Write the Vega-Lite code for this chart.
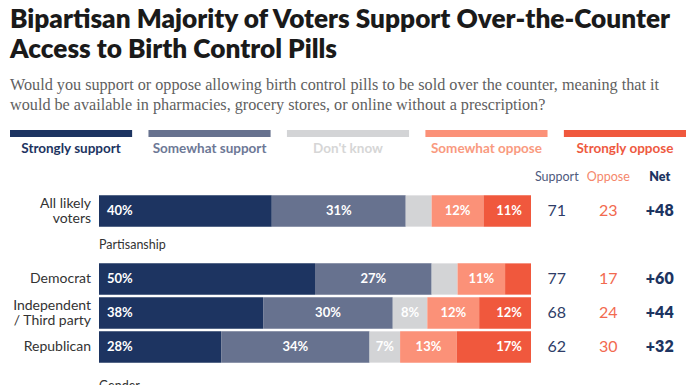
{
  "$schema": "https://vega.github.io/schema/vega-lite/v6.json",
  "background": "white",
  "padding": {"left": 10, "top": 6, "right": 10, "bottom": 0},
  "bounds": "full",
  "title": {
    "text": ["Bipartisan Majority of Voters Support Over-the-Counter", "Access to Birth Control Pills"],
    "subtitle": ["Would you support or oppose allowing birth control pills to be sold over the counter, meaning that it", "would be available in pharmacies, grocery stores, or online without a prescription?"],
    "anchor": "start",
    "font": "Lato",
    "fontSize": 26.2,
    "fontWeight": 800,
    "color": "#1a1a1a",
    "lineHeight": 30,
    "subtitleFont": "Liberation Serif",
    "subtitleFontSize": 16.2,
    "subtitleColor": "#5f5f5f",
    "subtitleLineHeight": 20,
    "subtitlePadding": 14,
    "offset": 17
  },
  "datasets": {
    "legend": [
      {"cat": "Strongly support"},
      {"cat": "Somewhat support"},
      {"cat": "Don't know"},
      {"cat": "Somewhat oppose"},
      {"cat": "Strongly oppose"}
    ],
    "bars": [
      {"row": "All likely voters", "cat": "Strongly support", "order": 1, "value": 40, "pct": "40%"},
      {"row": "All likely voters", "cat": "Somewhat support", "order": 2, "value": 31, "pct": "31%"},
      {"row": "All likely voters", "cat": "Don't know", "order": 3, "value": 6, "pct": ""},
      {"row": "All likely voters", "cat": "Somewhat oppose", "order": 4, "value": 12, "pct": "12%"},
      {"row": "All likely voters", "cat": "Strongly oppose", "order": 5, "value": 11, "pct": "11%"},
      {"row": "Democrat", "cat": "Strongly support", "order": 1, "value": 50, "pct": "50%"},
      {"row": "Democrat", "cat": "Somewhat support", "order": 2, "value": 27, "pct": "27%"},
      {"row": "Democrat", "cat": "Don't know", "order": 3, "value": 6, "pct": ""},
      {"row": "Democrat", "cat": "Somewhat oppose", "order": 4, "value": 11, "pct": "11%"},
      {"row": "Democrat", "cat": "Strongly oppose", "order": 5, "value": 6, "pct": ""},
      {"row": "Independent / Third party", "cat": "Strongly support", "order": 1, "value": 38, "pct": "38%"},
      {"row": "Independent / Third party", "cat": "Somewhat support", "order": 2, "value": 30, "pct": "30%"},
      {"row": "Independent / Third party", "cat": "Don't know", "order": 3, "value": 8, "pct": "8%"},
      {"row": "Independent / Third party", "cat": "Somewhat oppose", "order": 4, "value": 12, "pct": "12%"},
      {"row": "Independent / Third party", "cat": "Strongly oppose", "order": 5, "value": 12, "pct": "12%"},
      {"row": "Republican", "cat": "Strongly support", "order": 1, "value": 28, "pct": "28%"},
      {"row": "Republican", "cat": "Somewhat support", "order": 2, "value": 34, "pct": "34%"},
      {"row": "Republican", "cat": "Don't know", "order": 3, "value": 7, "pct": "7%"},
      {"row": "Republican", "cat": "Somewhat oppose", "order": 4, "value": 13, "pct": "13%"},
      {"row": "Republican", "cat": "Strongly oppose", "order": 5, "value": 17, "pct": "17%"}
    ],
    "rowlabels": [
      {"row": "All likely voters", "text": "All likely", "part": "top"},
      {"row": "All likely voters", "text": "voters", "part": "bottom"},
      {"row": "Democrat", "text": "Democrat", "part": "single"},
      {"row": "Independent / Third party", "text": "Independent", "part": "top"},
      {"row": "Independent / Third party", "text": "/ Third party", "part": "bottom"},
      {"row": "Republican", "text": "Republican", "part": "single"}
    ],
    "headers": [
      {"row": "Partisanship", "text": "Partisanship"},
      {"row": "Gender", "text": "Gender"}
    ],
    "table": [
      {"row": "header", "col": "Support", "text": "Support"},
      {"row": "header", "col": "Oppose", "text": "Oppose"},
      {"row": "header", "col": "Net", "text": "Net"},
      {"row": "All likely voters", "col": "Support", "text": "71"},
      {"row": "All likely voters", "col": "Oppose", "text": "23"},
      {"row": "All likely voters", "col": "Net", "text": "+48"},
      {"row": "Democrat", "col": "Support", "text": "77"},
      {"row": "Democrat", "col": "Oppose", "text": "17"},
      {"row": "Democrat", "col": "Net", "text": "+60"},
      {"row": "Independent / Third party", "col": "Support", "text": "68"},
      {"row": "Independent / Third party", "col": "Oppose", "text": "24"},
      {"row": "Independent / Third party", "col": "Net", "text": "+44"},
      {"row": "Republican", "col": "Support", "text": "62"},
      {"row": "Republican", "col": "Oppose", "text": "30"},
      {"row": "Republican", "col": "Net", "text": "+32"}
    ]
  },
  "config": {
    "view": {"stroke": null},
    "font": "Lato",
    "axis": {"grid": false, "domain": false, "ticks": false}
  },
  "spacing": 5,
  "vconcat": [
    {
      "width": 676,
      "height": 7,
      "data": {"name": "legend"},
      "mark": {"type": "rect"},
      "encoding": {
        "x": {
          "field": "cat", "type": "nominal", "sort": null,
          "scale": {"paddingInner": 0.118, "paddingOuter": 0},
          "axis": {
            "orient": "bottom", "title": null, "labelPadding": 4, "labelFontSize": 13.5, "labelFont": "Lato", "labelAngle": 0, "labelFontWeight": 700,
            "labelColor": {
              "condition": [
                {"test": "datum.value == 'Strongly support'", "value": "#1d3461"},
                {"test": "datum.value == 'Somewhat support'", "value": "#6d7896"},
                {"test": "datum.value == 'Somewhat oppose'", "value": "#f99a80"},
                {"test": "datum.value == 'Strongly oppose'", "value": "#ee5a3f"}
              ],
              "value": "#d6d6d6"
            }
          }
        },
        "color": {
          "field": "cat", "type": "nominal", "legend": null,
          "scale": {"domain": ["Strongly support", "Somewhat support", "Don't know", "Somewhat oppose", "Strongly oppose"],
                    "range": ["#1d3461", "#67728f", "#d3d4d6", "#fb9178", "#f0583d"]}
        }
      }
    },
    {
      "spacing": 0,
      "hconcat": [
        {
          "width": 521,
          "height": 238,
          "encoding": {
            "y": {
              "field": "row", "type": "nominal",
              "scale": {"domain": ["header", "All likely voters", "Partisanship", "Democrat", "Independent / Third party", "Republican", "Gender"], "paddingInner": 0.08, "paddingOuter": 0.04},
              "axis": null
            }
          },
          "layer": [
            {
              "data": {"name": "bars"},
              "mark": {"type": "bar"},
              "encoding": {
                "x": {"field": "value", "type": "quantitative", "stack": "normalize", "scale": {"domain": [-0.20602, 1], "nice": false, "zero": false}, "axis": null},
                "color": {
                  "field": "cat", "type": "nominal", "legend": null,
                  "scale": {"domain": ["Strongly support", "Somewhat support", "Don't know", "Somewhat oppose", "Strongly oppose"],
                            "range": ["#1d3461", "#67728f", "#d3d4d6", "#fb9178", "#f0583d"]}
                },
                "order": {"field": "order", "type": "quantitative"}
              }
            },
            {
              "data": {"name": "bars"},
              "mark": {"type": "text", "align": "left", "dx": 8, "fontSize": 13, "fontWeight": 700, "color": "white"},
              "encoding": {
                "x": {"field": "value", "type": "quantitative", "stack": "normalize", "bandPosition": 0},
                "detail": {"field": "cat"},
                "order": {"field": "order", "type": "quantitative"},
                "text": {"condition": {"test": "datum.order == 1", "field": "pct"}, "value": ""}
              }
            },
            {
              "data": {"name": "bars"},
              "mark": {"type": "text", "align": "center", "fontSize": 13, "fontWeight": 700, "color": "white"},
              "encoding": {
                "x": {"field": "value", "type": "quantitative", "stack": "normalize", "bandPosition": 0.5},
                "detail": {"field": "cat"},
                "order": {"field": "order", "type": "quantitative"},
                "text": {"condition": {"test": "datum.order > 1 && datum.order < 5", "field": "pct"}, "value": ""}
              }
            },
            {
              "data": {"name": "bars"},
              "mark": {"type": "text", "align": "right", "dx": -9, "fontSize": 13, "fontWeight": 700, "color": "white"},
              "encoding": {
                "x": {"field": "value", "type": "quantitative", "stack": "normalize", "bandPosition": 1},
                "detail": {"field": "cat"},
                "order": {"field": "order", "type": "quantitative"},
                "text": {"condition": {"test": "datum.order == 5", "field": "pct"}, "value": ""}
              }
            },
            {
              "data": {"name": "rowlabels"},
              "transform": [{"filter": "datum.part == 'single'"}],
              "mark": {"type": "text", "align": "right", "baseline": "middle", "fontSize": 14, "color": "#333333"},
              "encoding": {
                "x": {"datum": -0.0185, "type": "quantitative"},
                "text": {"field": "text"}
              }
            },
            {
              "data": {"name": "rowlabels"},
              "transform": [{"filter": "datum.part == 'top'"}],
              "mark": {"type": "text", "align": "right", "baseline": "middle", "dy": -7, "fontSize": 14, "color": "#333333"},
              "encoding": {
                "x": {"datum": -0.0185, "type": "quantitative"},
                "text": {"field": "text"}
              }
            },
            {
              "data": {"name": "rowlabels"},
              "transform": [{"filter": "datum.part == 'bottom'"}],
              "mark": {"type": "text", "align": "right", "baseline": "middle", "dy": 7.5, "fontSize": 14, "color": "#333333"},
              "encoding": {
                "x": {"datum": -0.0185, "type": "quantitative"},
                "text": {"field": "text"}
              }
            },
            {
              "data": {"name": "headers"},
              "transform": [{"filter": "datum.row == 'Partisanship'"}],
              "mark": {"type": "text", "align": "left", "fontSize": 12.5, "color": "#333333"},
              "encoding": {
                "x": {"datum": 0, "type": "quantitative"},
                "text": {"field": "text"}
              }
            },
            {
              "data": {"name": "headers"},
              "transform": [{"filter": "datum.row == 'Gender'"}],
              "mark": {"type": "text", "align": "left", "dy": 5, "fontSize": 12.5, "color": "#333333"},
              "encoding": {
                "x": {"datum": 0, "type": "quantitative"},
                "text": {"field": "text"}
              }
            }
          ]
        },
        {
          "width": 154.5,
          "height": 238,
          "data": {"name": "table"},
          "encoding": {
            "y": {
              "field": "row", "type": "nominal",
              "scale": {"domain": ["header", "All likely voters", "Partisanship", "Democrat", "Independent / Third party", "Republican", "Gender"], "paddingInner": 0.08, "paddingOuter": 0.04},
              "axis": null
            },
            "x": {"field": "col", "type": "nominal", "scale": {"domain": ["Support", "Oppose", "Net"], "paddingInner": 0, "paddingOuter": 0}, "axis": null},
            "text": {"field": "text"}
          },
          "layer": [
            {
              "transform": [{"filter": "datum.row != 'header' && datum.col != 'Net'"}],
              "mark": {"type": "text", "fontSize": 16},
              "encoding": {
                "color": {"condition": {"test": "datum.col == 'Support'", "value": "#2e3d68"}, "value": "#f26a4f"}
              }
            },
            {
              "transform": [{"filter": "datum.row != 'header' && datum.col == 'Net'"}],
              "mark": {"type": "text", "fontSize": 16, "fontWeight": 800, "color": "#1d3461"}
            },
            {
              "transform": [{"filter": "datum.row == 'header' && datum.col != 'Net'"}],
              "mark": {"type": "text", "fontSize": 12.5},
              "encoding": {
                "color": {"condition": {"test": "datum.col == 'Support'", "value": "#4f5a7d"}, "value": "#f5876c"}
              }
            },
            {
              "transform": [{"filter": "datum.row == 'header' && datum.col == 'Net'"}],
              "mark": {"type": "text", "fontSize": 12.5, "fontWeight": 800, "color": "#1d3461"}
            }
          ]
        }
      ]
    }
  ]
}
